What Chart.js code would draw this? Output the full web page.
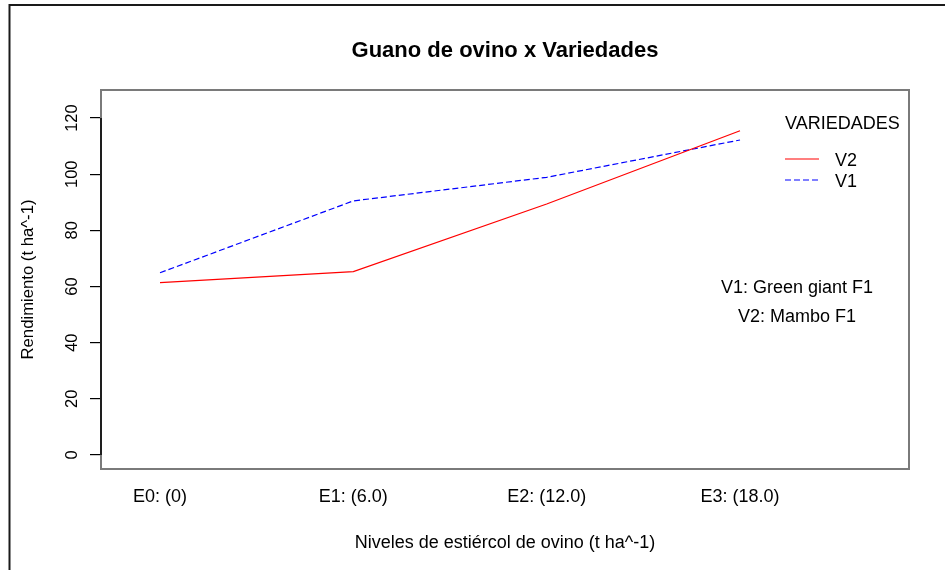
<!DOCTYPE html>
<html>
<head>
<meta charset="utf-8">
<script src="https://cdn.jsdelivr.net/npm/chart.js@4.4.0/dist/chart.umd.min.js"></script>
<style>
  html, body { margin: 0; padding: 0; background: #fff; }
  #wrap { width: 945px; height: 570px; }
</style>
</head>
<body>
<div id="wrap"><canvas id="chart" width="945" height="570"></canvas></div>
<script>
// data
var categories = ['E0: (0)', 'E1: (6.0)', 'E2: (12.0)', 'E3: (18.0)'];
var xLevels = [1, 2, 3, 4];
var v2Values = [61.4, 65.3, 89.4, 115.5];
var v1Values = [64.9, 90.5, 98.9, 112.2];
var yTicks = [0, 20, 40, 60, 80, 100, 120];
var legendItems = ['V2', 'V1'];
var notes = ['V1: Green giant F1', 'V2: Mambo F1'];

var FONT = '"Liberation Sans", Arial, sans-serif';

function toPoints(vals) {
    return vals.map(function (v, i) { return { x: xLevels[i], y: v }; });
}

var extras = {
    id: 'extras',
    afterDraw: function (chart) {
        var ctx = chart.ctx;
        var a = chart.chartArea;
        var xs = chart.scales.x, ys = chart.scales.y;
        ctx.save();

        // plot box
        ctx.strokeStyle = '#7a7a7a';
        ctx.lineWidth = 2;
        ctx.strokeRect(a.left, a.top, a.right - a.left, a.bottom - a.top);

        // y axis line (0..120)
        ctx.strokeStyle = '#000';
        ctx.lineWidth = 1.5;
        ctx.beginPath();
        ctx.moveTo(a.left, ys.getPixelForValue(yTicks[0]));
        ctx.lineTo(a.left, ys.getPixelForValue(yTicks[yTicks.length - 1]));
        ctx.stroke();

        ctx.fillStyle = '#000';

        // y tick labels, rotated
        ctx.font = '16.5px ' + FONT;
        ctx.textAlign = 'center';
        ctx.textBaseline = 'alphabetic';
        yTicks.forEach(function (t) {
            ctx.save();
            ctx.translate(77, ys.getPixelForValue(t));
            ctx.rotate(-Math.PI / 2);
            ctx.fillText(String(t), 0, 0);
            ctx.restore();
        });

        // x labels
        ctx.font = '18px ' + FONT;
        ctx.textBaseline = 'middle';
        categories.forEach(function (c, i) {
            ctx.fillText(c, xs.getPixelForValue(xLevels[i]), 497);
        });

        // axis titles
        ctx.fillText('Niveles de estiércol de ovino (t ha^-1)', (a.left + a.right) / 2, 543);
        ctx.save();
        ctx.font = '16.7px ' + FONT;
        ctx.textBaseline = 'alphabetic';
        ctx.translate(33, (a.top + a.bottom) / 2);
        ctx.rotate(-Math.PI / 2);
        ctx.fillText('Rendimiento (t ha^-1)', 0, 0);
        ctx.restore();

        // main title
        ctx.font = 'bold 22px ' + FONT;
        ctx.textBaseline = 'alphabetic';
        ctx.fillText('Guano de ovino x Variedades', (a.left + a.right) / 2, 57);

        // legend
        ctx.font = '18px ' + FONT;
        ctx.textAlign = 'left';
        ctx.fillText('VARIEDADES', 785, 129);
        var ds = chart.data.datasets;
        legendItems.forEach(function (lbl, i) {
            var d = ds[i];
            var y = 159 + i * 21;
            ctx.strokeStyle = d.borderColor;
            ctx.lineWidth = 1.2;
            ctx.setLineDash(d.borderDash || []);
            ctx.beginPath();
            ctx.moveTo(785, y);
            ctx.lineTo(819, y);
            ctx.stroke();
            ctx.setLineDash([]);
            ctx.fillText(lbl, 835, y + 7);
        });

        // notes
        ctx.textAlign = 'center';
        ctx.fillText(notes[0], 797, 293);
        ctx.fillText(notes[1], 797, 322);

        // outer frame (top and left)
        ctx.strokeStyle = '#1a1a1a';
        ctx.lineWidth = 2;
        ctx.beginPath();
        ctx.moveTo(945, 5);
        ctx.lineTo(9.5, 5);
        ctx.lineTo(9.5, 570);
        ctx.stroke();

        ctx.restore();
    }
};

new Chart(document.getElementById('chart'), {
    type: 'line',
    data: {
        datasets: [
            { label: 'V2', data: toPoints(v2Values), borderColor: '#ff0000', borderWidth: 1.2, fill: false },
            { label: 'V1', data: toPoints(v1Values), borderColor: '#0000ff', borderWidth: 1.2, borderDash: [6, 3], fill: false }
        ]
    },
    options: {
        responsive: false,
        animation: false,
        events: [],
        elements: { point: { radius: 0 }, line: { tension: 0 } },
        layout: { padding: { left: 0, top: 90, right: 36, bottom: 0 } },
        plugins: { legend: { display: false }, tooltip: { enabled: false }, title: { display: false } },
        scales: {
            x: {
                type: 'linear',
                min: 0.6948,
                max: 4.874,
                grid: { display: false },
                border: { display: false },
                ticks: { display: false },
                afterBuildTicks: function (s) { s.ticks = xLevels.map(function (v) { return { value: v }; }); },
                afterFit: function (s) { s.height = 101; }
            },
            y: {
                min: -5,
                max: 130,
                grid: { drawOnChartArea: false, drawTicks: true, tickLength: 11, color: '#000', lineWidth: 1.2 },
                border: { display: false },
                ticks: { display: false },
                afterBuildTicks: function (s) { s.ticks = yTicks.map(function (v) { return { value: v }; }); },
                afterFit: function (s) { s.width = 101; }
            }
        }
    },
    plugins: [extras]
});
</script>
</body>
</html>
